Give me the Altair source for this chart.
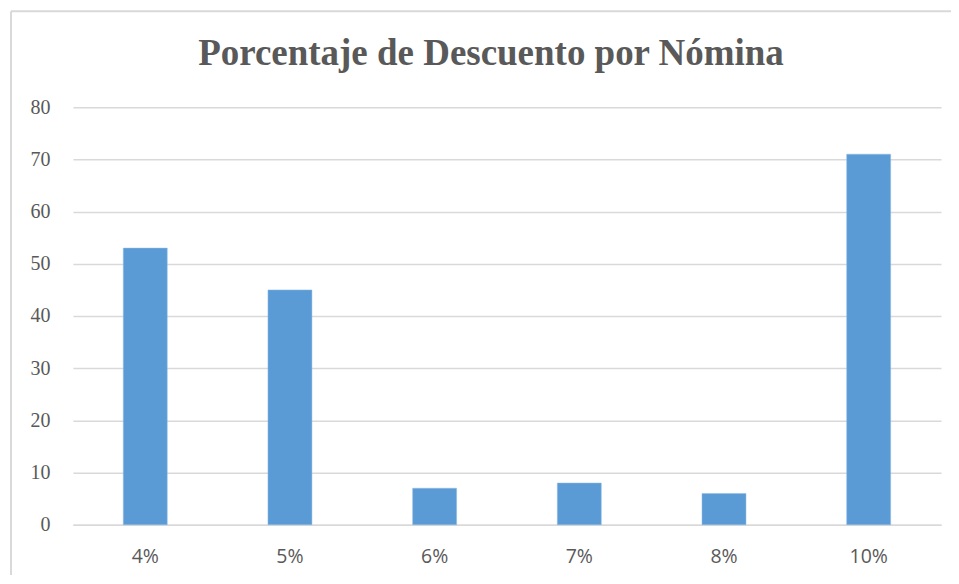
import altair as alt
import pandas as pd

categories = ["4%", "5%", "6%", "7%", "8%", "10%"]
values = [53, 45, 7, 8, 6, 71]
y_ticks = [0, 10, 20, 30, 40, 50, 60, 70, 80]
title_text = "Porcentaje de Descuento por Nómina"

df = pd.DataFrame({"cat": categories, "val": values})

PLOT_W = 869
PLOT_H = 418

bars = alt.Chart(df).mark_bar(color="#5B9BD5", stroke="#8FBCE6", strokeWidth=0.5).encode(
    x=alt.X("cat:N", sort=categories,
            scale=alt.Scale(paddingInner=0.696, paddingOuter=0.348),
            axis=alt.Axis(title=None, labelAngle=0, ticks=False, domain=True,
                          domainColor="#d9d9d9", domainWidth=1.5,
                          labelFont="Open Sans", labelFontSize=19.5,
                          labelColor="#595959", labelPadding=23, grid=False)),
    y=alt.Y("val:Q", scale=alt.Scale(domain=[0, 80], nice=False),
            axis=alt.Axis(title=None, values=y_ticks, ticks=False, domain=False,
                          grid=True, gridColor="#d9d9d9", gridWidth=1.5,
                          labelFont="Liberation Serif", labelFontSize=20,
                          labelColor="#595959", labelPadding=23)),
)

border = alt.Chart(pd.DataFrame({"k": [0]})).mark_rule(color="#d9d9d9", strokeWidth=2).encode(
    x=alt.value(-62), y=alt.value(-96), y2=alt.value(600)
)
border_top = alt.Chart(pd.DataFrame({"k": [0]})).mark_rule(color="#d9d9d9", strokeWidth=2).encode(
    x=alt.value(-62), x2=alt.value(1000), y=alt.value(-96)
)

chart = alt.layer(border, border_top, bars).properties(
    width=PLOT_W, height=PLOT_H,
    background="white",
    title=alt.TitleParams(title_text, font="Liberation Serif", fontSize=37,
                          fontWeight="bold", color="#595959", anchor="middle",
                          dx=-16, baseline="alphabetic", offset=-92),
    autosize=alt.AutoSizeParams(type="none"),
    padding={"left": 65, "top": 99, "right": 10, "bottom": 50},
).configure_view(stroke="transparent", strokeWidth=0)

chart.save("out.html", embed_options={"renderer": "svg", "actions": False})
